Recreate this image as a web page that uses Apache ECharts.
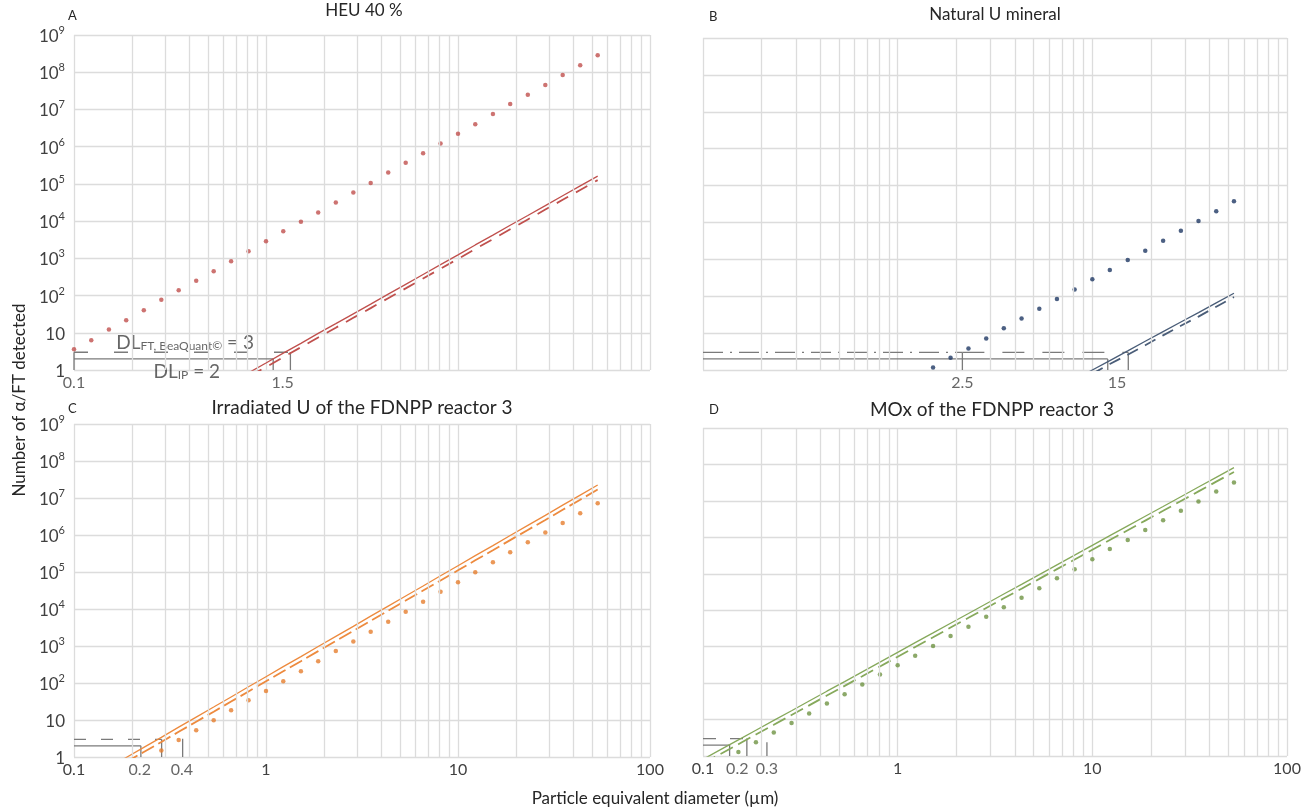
<!DOCTYPE html>
<html>
<head>
<meta charset="utf-8">
<script src="https://cdn.jsdelivr.net/npm/echarts@6/dist/echarts.min.js"></script>
<style>
html,body{margin:0;padding:0;background:#fff;}
#chart{width:1304px;height:809px;}
</style>
</head>
<body>
<div id="chart"></div>
<script>
// ---------- data ----------
// particle equivalent diameters (µm), shared sampling of all panels
const diam = [0.1, 0.123, 0.152, 0.187, 0.231, 0.285, 0.351, 0.433, 0.534, 0.658, 0.811,
  1.0, 1.23, 1.52, 1.87, 2.31, 2.85, 3.51, 4.33, 5.34, 6.58, 8.11,
  10, 12.3, 15.2, 18.7, 23.1, 28.5, 35.1, 43.3, 53.4];

// Panel A – HEU 40 %
const aDotStart = 0;
const aDots = [3.6, 6.3, 12.2, 21.7, 40, 77, 138, 250, 453, 838, 1550, 2870, 5310, 9640, 17100,
  31700, 58600, 106000, 201000, 372000, 661000, 1220000, 2220000, 4020000, 7590000,
  14100000, 25000000, 45300000, 83800000, 155000000, 287000000];
const aSolidStart = 9;
const aSolid = [0.45, 0.84, 1.54, 2.83, 5.2, 9.6, 17.6, 32.3, 59, 109, 200, 368, 676, 1240, 2290,
  4200, 7720, 14200, 26100, 47900, 88100, 162000];
const aDashStart = 9;
const aDash = [0.35, 0.66, 1.2, 2.2, 4.1, 7.5, 13.7, 25.2, 46, 85, 156, 287, 527, 967, 1790, 3280,
  6020, 11100, 20400, 37400, 68700, 126000];

// Panel B – Natural U mineral
const bDotStart = 13;
const bDots = [1.16, 2.15, 3.84, 7.1, 13.6, 24.7, 45.9, 83.7, 152, 290, 517, 961, 1710, 3190,
  5940, 11000, 20100, 37400];
const bSolidStart = 21;
const bSolid = [0.55, 1, 1.8, 3.3, 6, 11, 20, 36, 66, 120];
const bDashStart = 21;
const bDash = [0.43, 0.79, 1.45, 2.6, 4.7, 8.7, 15.8, 28, 52, 95];

// Panel C – Irradiated U of the FDNPP reactor 3
const cDotStart = 5;
const cDots = [1.5, 2.9, 5.3, 9.8, 18.4, 34, 61, 112, 208, 389, 727, 1330, 2410, 4520, 8440,
  15700, 29400, 52500, 98000, 183000, 341000, 635000, 1160000, 2120000, 3880000, 7240000];
const cSolidStart = 2;
const cSolid = [0.52, 0.97, 1.82, 3.4, 6.4, 12, 22.4, 42, 79, 148, 276, 518, 970, 1820, 3400, 6400,
  12000, 22500, 42000, 79000, 148000, 276000, 518000, 970000, 1820000, 3400000, 6400000,
  12000000, 22500000];
const cDashStart = 2;
const cDash = [0.39, 0.73, 1.37, 2.55, 4.8, 9, 16.8, 31.5, 59, 111, 207, 389, 728, 1365, 2550, 4800,
  9000, 16900, 31500, 59000, 111000, 207000, 389000, 728000, 1370000, 2550000, 4800000,
  9000000, 16900000];

// Panel D – MOx of the FDNPP reactor 3
const dDotStart = 2;
const dDots = [1.29, 2.4, 4.4, 8.1, 14.6, 27.5, 49.6, 91, 172, 311, 562, 1040, 1950, 3520, 6640,
  12000, 22100, 39900, 75200, 133000, 251000, 482000, 851000, 1600000, 2960000, 5350000,
  9640000, 18200000, 32100000];
const dSolidStart = 0;
const dSolid = [0.81, 1.5, 2.77, 5.1, 9.5, 17.5, 32.3, 60, 110, 204, 378, 698, 1290, 2380, 4400,
  8140, 15100, 27900, 51300, 95100, 176000, 324000, 601000, 1110000, 2060000, 3790000,
  7020000, 13000000, 24000000, 44300000, 82000000];
const dDashStart = 0;
const dDash = [0.62, 1.14, 2.1, 3.9, 7.2, 13.3, 24.5, 45.6, 84, 155, 287, 530, 980, 1810, 3340,
  6190, 11500, 21200, 39000, 72300, 134000, 246000, 457000, 844000, 1570000, 2880000,
  5340000, 9900000, 18200000, 33700000, 62000000];

// detection limits
const dlFT = 3;
const dlIP = 2;

// annotation segments [[x1,y1],[x2,y2]]
const aDLft = [[0.1, dlFT], [1.34, dlFT]];
const aDLip = [[0.1, dlIP], [1.09, dlIP]];
const aTicks = [[[0.1, 1], [0.1, dlFT]], [[1.09, 1], [1.09, dlIP]], [[1.34, 1], [1.34, dlFT]]];
const bDLftDashDot = [[0.1, dlFT], [2.15, dlFT]];
const bDLft = [[2.15, dlFT], [15.3, dlFT]];
const bDLip = [[0.1, dlIP], [12, dlIP]];
const bTicks = [[[2.15, 1], [2.15, dlFT]], [[12, 1], [12, dlIP]], [[15.3, 1], [15.3, dlFT]]];
const cDLft = [[0.1, dlFT], [0.286, dlFT]];
const cDLip = [[0.1, dlIP], [0.223, dlIP]];
const cTicks = [[[0.223, 1], [0.223, dlIP]], [[0.286, 1], [0.286, dlFT]], [[0.368, 1], [0.368, 3.1]]];
const dDLft = [[0.1, dlFT], [0.168, dlFT]];
const dDLip = [[0.1, dlIP], [0.137, dlIP]];
const dTicks = [[[0.137, 1], [0.137, dlIP]], [[0.168, 1], [0.168, dlFT]], [[0.213, 1], [0.213, 2.4]]];

// extra tick annotations [x, text]
const aXText = [[0.1, '0.1'], [1.22, '1.5']];
const bXText = [[2.15, '2.5'], [13.4, '15']];
const cXText = [[0.22, '0.2'], [0.365, '0.4']];
const dXText = [[0.15, '0.2'], [0.213, '0.3']];

// minor vertical grid values
const minorX = [0.2, 0.3, 0.4, 0.5, 0.6, 0.7, 0.8, 0.9, 2, 3, 4, 5, 6, 7, 8, 9,
  20, 30, 40, 50, 60, 70, 80, 90];

const titles = ['HEU 40 %', 'Natural U mineral', 'Irradiated U of the FDNPP reactor 3', 'MOx of the FDNPP reactor 3'];
const letters = ['A', 'B', 'C', 'D'];

// ---------- build ----------
const FONT = 'Lato, "Open Sans", sans-serif';
const TXT = '#404040';
const GRIDC = '#dcdcdc';
const ANNC = '#7a7a7a';

function pairs(start, ys) { return ys.map((y, i) => [diam[start + i], y]); }

const grids = [
  {left: 74, top: 35, width: 576, height: 335},
  {left: 703, top: 38, width: 584, height: 332},
  {left: 74, top: 424, width: 576, height: 333},
  {left: 703, top: 428, width: 584, height: 328}
];

const colors = [
  {dot: '#c0504d', line: '#c0504d'},
  {dot: '#1f3864', line: '#4a5d78'},
  {dot: '#e67e2e', line: '#ed8a3e'},
  {dot: '#6f9443', line: '#86a95b'}
];

const panels = [
  {dS: aDotStart, d: aDots, sS: aSolidStart, s: aSolid, hS: aDashStart, h: aDash, dash: [13, 9],
    ft: aDLft, ftType: [14, 26], ip: aDLip, ticks: aTicks, xt: aXText, yLab: true, xLab: false},
  {dS: bDotStart, d: bDots, sS: bSolidStart, s: bSolid, hS: bDashStart, h: bDash, dash: [12, 8],
    ft: bDLft, ftType: [22, 18], ip: bDLip, ticks: bTicks, xt: bXText, yLab: false, xLab: false},
  {dS: cDotStart, d: cDots, sS: cSolidStart, s: cSolid, hS: cDashStart, h: cDash, dash: [14, 5],
    ft: cDLft, ftType: [12, 15], ip: cDLip, ticks: cTicks, xt: cXText, yLab: true, xLab: true},
  {dS: dDotStart, d: dDots, sS: dSolidStart, s: dSolid, hS: dDashStart, h: dDash, dash: [14, 6],
    ft: dDLft, ftType: [13, 14], ip: dDLip, ticks: dTicks, xt: dXText, yLab: false, xLab: true}
];

const xAxes = [], yAxes = [], series = [];
panels.forEach((p, i) => {
  xAxes.push({
    type: 'log', gridIndex: i, min: 0.1, max: 100, logBase: 10,
    axisLine: {show: false}, axisTick: {show: false},
    splitLine: {show: true, lineStyle: {color: GRIDC, width: 1.3}},
    axisLabel: {show: p.xLab, color: TXT, fontFamily: FONT, fontSize: 16, margin: 5,
      formatter: v => String(Number(v.toPrecision(3)))}
  });
  yAxes.push({
    type: 'log', gridIndex: i, min: 1, max: 1e9, logBase: 10,
    axisLine: {show: false}, axisTick: {show: false},
    splitLine: {show: true, lineStyle: {color: GRIDC, width: 1.3}},
    axisLabel: {show: p.yLab, color: TXT, fontFamily: FONT, margin: 9,
      formatter: v => {
        const e = Math.round(Math.log10(v));
        if (e === 0) return '{a|1}';
        if (e === 1) return '{a|10}';
        return '{a|10}{b|' + e + '}';
      },
      rich: {
        a: {fontSize: 17, fontFamily: FONT, color: TXT, lineHeight: 20, verticalAlign: 'bottom'},
        b: {fontSize: 11, fontFamily: FONT, color: TXT, lineHeight: 20, verticalAlign: 'top'}
      }
    }
  });
  const col = colors[i];
  // minor vertical gridlines
  series.push({
    type: 'line', xAxisIndex: i, yAxisIndex: i, data: [], silent: true, z: 1,
    markLine: {silent: true, symbol: ['none', 'none'], label: {show: false}, animation: false,
      lineStyle: {color: GRIDC, type: 'solid', width: 1.3},
      emphasis: {disabled: true},
      data: minorX.map(v => ({xAxis: v}))}
  });
  // annotation lines
  const annStyle = (type) => ({color: ANNC, width: 1.3, type: type});
  const addSeg = (seg, type) => series.push({
    type: 'line', xAxisIndex: i, yAxisIndex: i, data: seg, symbol: 'none', silent: true,
    lineStyle: annStyle(type), z: 2, clip: true, animation: false
  });
  if (i === 1) addSeg(bDLftDashDot, [20, 7, 2, 7]);
  addSeg(p.ft, p.ftType);
  addSeg(p.ip, 'solid');
  p.ticks.forEach(t => addSeg(t, 'solid'));
  // data
  series.push({
    type: 'line', xAxisIndex: i, yAxisIndex: i, data: pairs(p.sS, p.s), symbol: 'none',
    lineStyle: {color: col.line, width: 1.3}, clip: true, z: 3, animation: false
  });
  series.push({
    type: 'line', xAxisIndex: i, yAxisIndex: i, data: pairs(p.hS, p.h), symbol: 'none',
    lineStyle: {color: col.line, width: 1.8, type: p.dash}, clip: true, z: 3, animation: false
  });
  series.push({
    type: 'scatter', xAxisIndex: i, yAxisIndex: i, data: pairs(p.dS, p.d), symbol: 'circle',
    symbolSize: 4.5, itemStyle: {color: col.dot}, z: 4, animation: false
  });
  // extra x tick texts
  series.push({
    type: 'scatter', xAxisIndex: i, yAxisIndex: i, silent: true, animation: false,
    data: p.xt.map(t => [t[0], 1, t[1]]), symbolSize: 1,
    itemStyle: {color: 'rgba(0,0,0,0)'},
    label: {show: true, position: 'bottom', distance: 4, color: TXT, fontFamily: FONT, fontSize: 16,
      formatter: q => q.data[2]}
  });
});

// DL texts in panel A
series.push({
  type: 'scatter', xAxisIndex: 0, yAxisIndex: 0, silent: true, animation: false, symbolSize: 1,
  itemStyle: {color: 'rgba(0,0,0,0)'},
  data: [[0.165, 6.0, 'ft'], [0.258, 1, 'ip']],
  label: {show: true, position: 'right', distance: 0, color: TXT,
    formatter: q => q.data[2] === 'ft' ? '{d|DL}{s|FT, BeaQuant©}{d| = 3}' : '{d|DL}{s|IP}{d| = 2}',
    rich: {
      d: {fontSize: 19, fontFamily: FONT, color: TXT, verticalAlign: 'bottom', lineHeight: 22},
      s: {fontSize: 12, fontFamily: FONT, color: TXT, verticalAlign: 'bottom', lineHeight: 20}
    }
  }
});

const graphic = [];
const centers = [364, 995, 362, 992];
const titleY = [11, 15, 408, 410];
const titleSize = [17, 17, 19, 19];
const letterPos = [[68, 16], [709, 17], [68, 409], [709, 410]];
titles.forEach((t, i) => {
  graphic.push({type: 'text', x: centers[i], y: titleY[i], silent: true,
    style: {text: t, font: titleSize[i] + 'px ' + FONT, fill: '#262626', textAlign: 'center', textVerticalAlign: 'middle'}});
  graphic.push({type: 'text', x: letterPos[i][0], y: letterPos[i][1], silent: true,
    style: {text: letters[i], font: '13px ' + FONT, fill: '#262626', textAlign: 'left', textVerticalAlign: 'middle'}});
});
graphic.push({type: 'text', x: 655, y: 799, silent: true,
  style: {text: 'Particle equivalent diameter (µm)', font: '17px ' + FONT, fill: '#262626', textAlign: 'center', textVerticalAlign: 'middle'}});
graphic.push({type: 'text', x: 20, y: 400, rotation: Math.PI / 2, silent: true,
  style: {text: 'Number of α/FT detected', font: '17px ' + FONT, fill: '#262626', textAlign: 'center', textVerticalAlign: 'middle'}});

const chart = echarts.init(document.getElementById('chart'), null, {renderer: 'canvas'});
chart.setOption({
  backgroundColor: '#ffffff',
  animation: false,
  grid: grids,
  xAxis: xAxes,
  yAxis: yAxes,
  series: series,
  graphic: graphic
});
</script>
</body>
</html>
